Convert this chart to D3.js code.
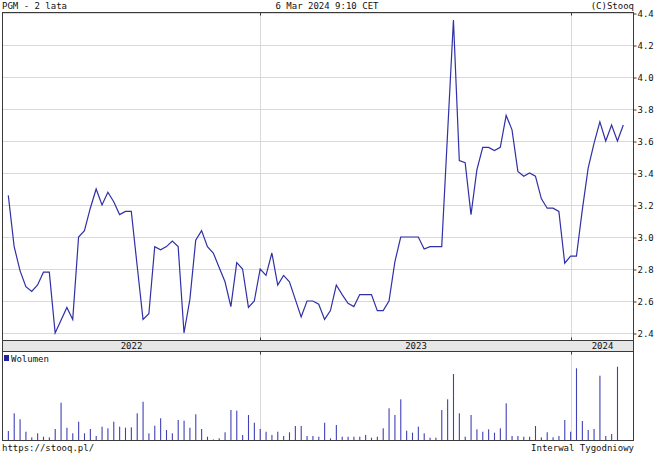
<!DOCTYPE html>
<html><head><meta charset="utf-8">
<script src="https://cdn.jsdelivr.net/npm/d3@7/dist/d3.min.js"></script>
<style>
body{margin:0;background:#fff}
svg{display:block}
text{font-family:"DejaVu Sans Mono",monospace;font-size:9px;fill:#111}
</style>
</head><body>
<svg id="c" width="654" height="453"></svg>
<script>
const titleText = "PGM - 2 lata";
const stampText = "6 Mar 2024 9:10 CET";
const creditText = "(C)Stooq";
const footLeft = "https://stooq.pl/";
const footRight = "Interwal Tygodniowy";
const volumeLabel = "Wolumen";
const yearLabels = ["2022", "2023", "2024"];
const yearStartIdx = [43, 96];
const priceTicks = [2.4, 2.6, 2.8, 3.0, 3.2, 3.4, 3.6, 3.8, 4.0, 4.2, 4.4];

const closes = [
 3.26, 2.94, 2.79, 2.69, 2.66, 2.70, 2.78, 2.78, 2.40, 2.48,
 2.56, 2.485, 3.00, 3.04, 3.18, 3.30, 3.20, 3.28, 3.22, 3.14,
 3.16, 3.16, 2.82, 2.485, 2.52, 2.94, 2.92, 2.94, 2.975, 2.94,
 2.40, 2.61, 2.98, 3.04, 2.94, 2.90, 2.81, 2.72, 2.565, 2.84,
 2.80, 2.56, 2.60, 2.80, 2.76, 2.90, 2.70, 2.76, 2.72, 2.61,
 2.50, 2.60, 2.60, 2.58, 2.485, 2.54, 2.70, 2.64, 2.585, 2.565,
 2.64, 2.64, 2.64, 2.54, 2.54, 2.60, 2.845, 3.00, 3.00, 3.00,
 3.00, 2.925, 2.94, 2.94, 2.94, 3.65, 4.356, 3.477, 3.465, 3.14,
 3.42, 3.56, 3.56, 3.54, 3.56, 3.76, 3.67, 3.41, 3.38, 3.40,
 3.38, 3.24, 3.18, 3.18, 3.16, 2.836, 2.88, 2.88, 3.17, 3.43,
 3.585, 3.72, 3.60, 3.70, 3.60, 3.70
];
const volumes = [
 9, 26.7, 20.7, 8.3, 2.7, 6.7, 3.3, 2.7, 11, 37.3,
 12.3, 6.7, 18.3, 6.7, 11, 4, 13.3, 11.7, 18.3, 13.3,
 12.3, 12.7, 26.7, 38.3, 6.7, 14.3, 21.7, 10, 6.7, 20,
 19.3, 12.3, 25.7, 11, 3.3, 0.5, 1.7, 7.7, 30, 29.3,
 5, 25, 17.3, 11, 8.3, 5, 8.3, 4, 7.7, 14,
 14, 4, 4, 3.3, 17.3, 1.7, 15, 3.3, 3.3, 3.3,
 3.3, 5, 2.3, 3.3, 11.7, 31.7, 25, 40.7, 9.3, 7.3,
 13.3, 6.7, 2.3, 2.3, 30, 40.7, 66, 26.7, 3.3, 25,
 10.7, 8.3, 10.7, 7.3, 11.7, 36.7, 4, 4, 3.3, 3.3,
 14, 2.7, 7.7, 2.7, 4, 20, 8.3, 71.7, 19, 10,
 11, 64.3, 4, 6, 73.3, 0
];

const svg = d3.select("#c");
const L = 2.5, R = 633.5, T = 12.5, mainB = 340.5, bandB = 351.5, volB = 440.5;
const frameCol = "#3a3a3a", gridCol = "#d9d9d9", lineCol = "#3030a8", barCol = "#4040b8";
const N = closes.length;

const x = d3.scaleLinear().domain([0, N - 1]).range([L + 5.8, R - 10.2]);
const y = d3.scaleLinear().domain([2.4, 4.4]).range([333, 13]);
const yv = d3.scaleLinear().domain([0, 80]).range([volB - 0.5, volB - 80.5]);

// header
svg.append("text").attr("x", 2).attr("y", 9).text(titleText);
svg.append("text").attr("x", 327).attr("y", 9).attr("text-anchor", "middle").text(stampText);
svg.append("text").attr("x", 634).attr("y", 9).attr("text-anchor", "end").text(creditText);

// grid main
const g = svg.append("g");
g.selectAll("line.h").data(priceTicks).join("line")
  .attr("x1", L).attr("x2", R)
  .attr("y1", d => Math.round(y(d)) + 0.5).attr("y2", d => Math.round(y(d)) + 0.5)
  .attr("stroke", gridCol);
const yearX = yearStartIdx.map(i => Math.round(x(i)) + 0.5);
g.selectAll("line.v").data(yearX).join("line")
  .attr("x1", d => d).attr("x2", d => d).attr("y1", T).attr("y2", mainB)
  .attr("stroke", gridCol);
g.selectAll("line.vv").data(yearX).join("line")
  .attr("x1", d => d).attr("x2", d => d).attr("y1", bandB).attr("y2", volB)
  .attr("stroke", gridCol);

// price line
svg.append("path").datum(closes)
  .attr("d", d3.line().x((d, i) => x(i)).y(d => y(d)))
  .attr("fill", "none").attr("stroke", lineCol).attr("stroke-width", 1.2)
  .attr("stroke-linejoin", "miter");

// volume bars
svg.append("g").selectAll("rect").data(volumes).join("rect")
  .attr("x", (d, i) => x(i) - 0.5).attr("width", 1.1)
  .attr("y", d => yv(d)).attr("height", d => yv(0) - yv(d))
  .attr("fill", barCol);

// band
svg.append("rect").attr("x", L).attr("y", mainB).attr("width", R - L).attr("height", bandB - mainB)
  .attr("fill", "#e6e6e6").attr("stroke", frameCol);
const bounds = [L, ...yearX, R];
svg.selectAll("text.yr").data(yearLabels).join("text")
  .attr("x", (d, i) => (bounds[i] + bounds[i + 1]) / 2).attr("y", bandB - 2.5)
  .attr("text-anchor", "middle").text(d => d);

// frame
svg.append("rect").attr("x", L).attr("y", T).attr("width", R - L).attr("height", volB - T)
  .attr("fill", "none").attr("stroke", frameCol);
// small year ticks on frame edges
const tk = svg.append("g").attr("stroke", frameCol);
yearX.forEach(xx => {
  tk.append("line").attr("x1", xx).attr("x2", xx).attr("y1", T).attr("y2", T + 3);
  tk.append("line").attr("x1", xx).attr("x2", xx).attr("y1", mainB - 3).attr("y2", mainB);
  tk.append("line").attr("x1", xx).attr("x2", xx).attr("y1", bandB).attr("y2", bandB + 3);
});

// right axis
const ax = svg.append("g").attr("transform", `translate(${R},0.5)`)
  .call(d3.axisRight(y).tickValues(priceTicks).tickSize(3).tickPadding(1).tickFormat(d3.format(".1f")));
ax.select(".domain").remove();
ax.selectAll("line").attr("stroke", frameCol);
ax.selectAll("text").attr("font-family", "DejaVu Sans Mono").attr("font-size", 9).attr("fill", "#111");

// volume legend
svg.append("rect").attr("x", 4).attr("y", 355).attr("width", 5).attr("height", 6).attr("fill", "#2020a0");
svg.append("text").attr("x", 11).attr("y", 362).text(volumeLabel);

// footer
svg.append("text").attr("x", 2).attr("y", 451).text(footLeft);
svg.append("text").attr("x", 634).attr("y", 451).attr("text-anchor", "end").text(footRight);
</script>
</body></html>
